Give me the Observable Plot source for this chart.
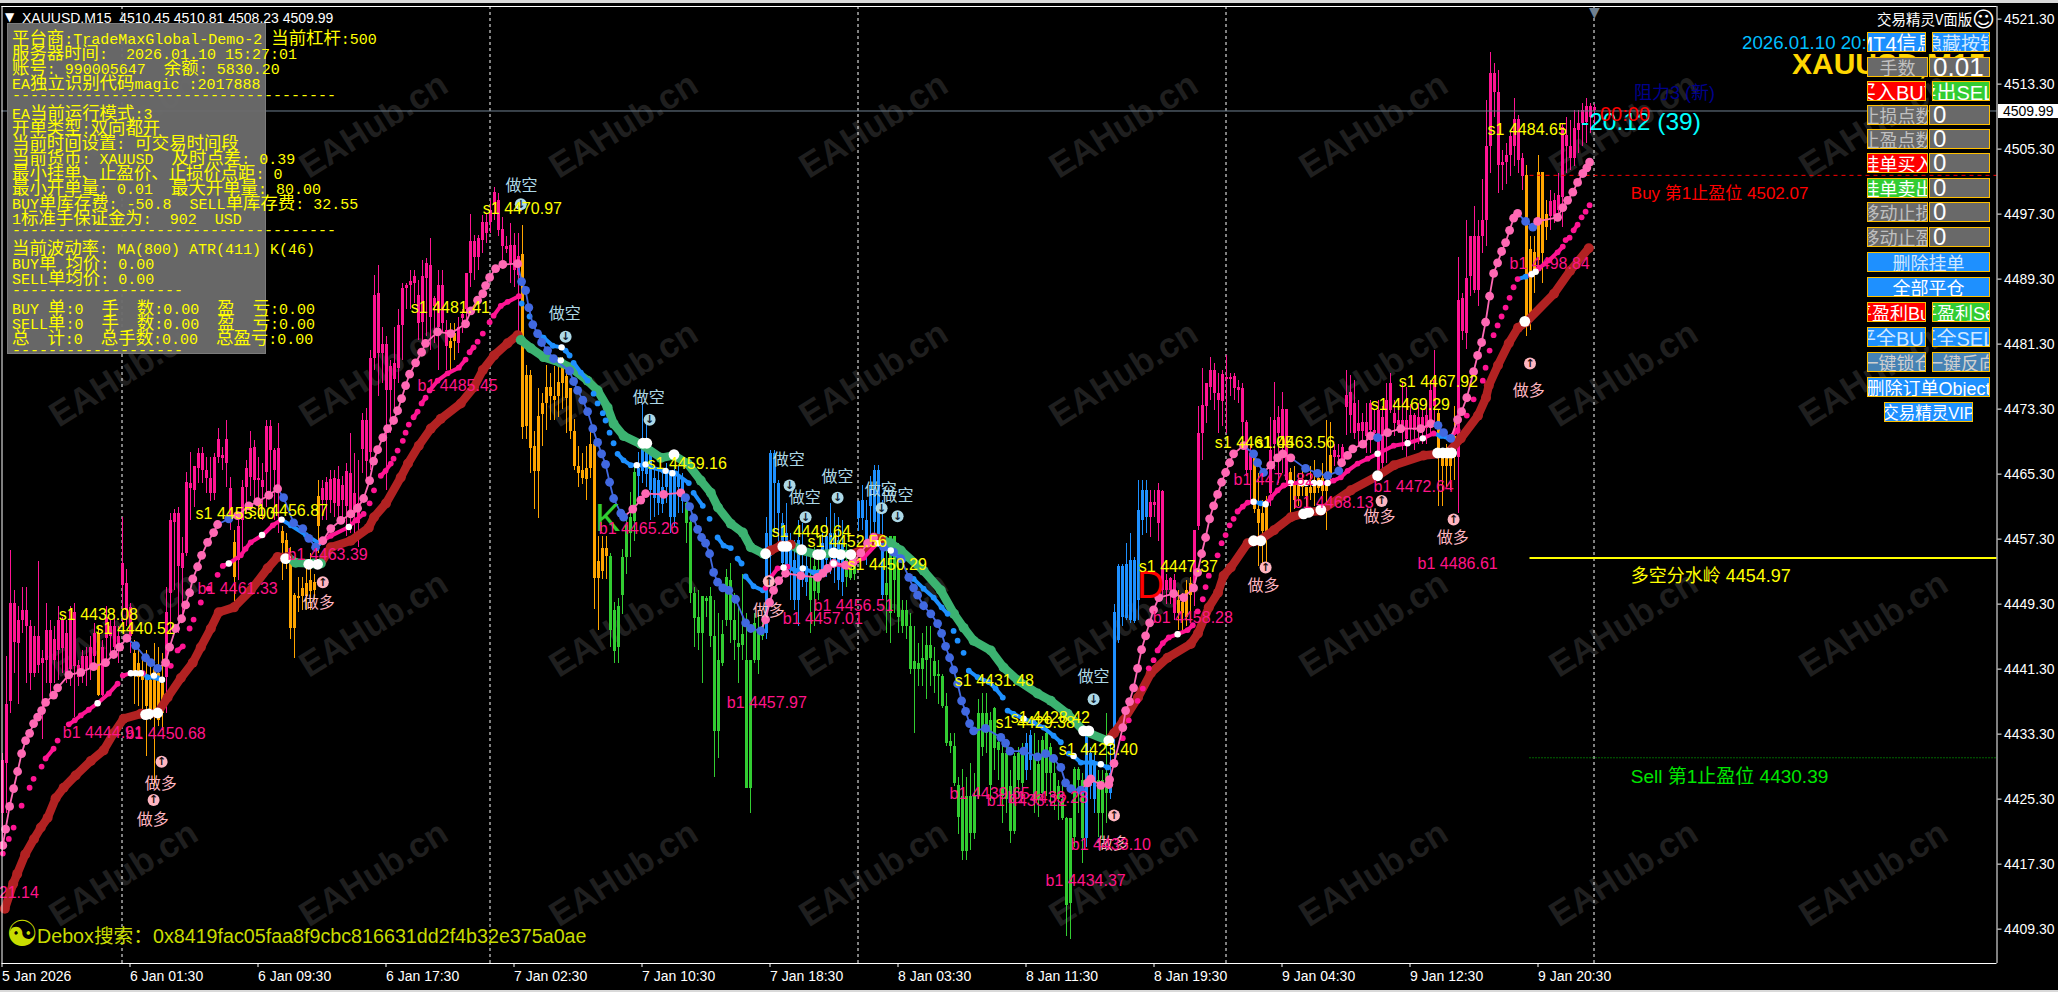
<!DOCTYPE html>
<html><head><meta charset="utf-8">
<script src="https://cdn.jsdelivr.net/npm/d3@7"></script>
<script src="https://cdn.jsdelivr.net/npm/@observablehq/plot@0.6"></script>
<style>
html,body{margin:0;padding:0;background:#000;overflow:hidden}
#wrap{position:relative;width:2058px;height:992px;background:#000;overflow:hidden;font-family:"Liberation Sans","Noto Sans CJK SC",sans-serif}
#wrap svg{display:block}
.ov{position:absolute;white-space:pre;line-height:1}
.pl{position:absolute;left:12px;white-space:pre;height:15px;line-height:15px;font-family:"Liberation Mono",monospace;font-size:15px;color:#ff0}
.pl span{font-family:"Noto Sans CJK SC";font-size:17.4px}
.btn{position:absolute;box-sizing:border-box;border:1px solid #ffc000;display:flex;align-items:center;overflow:hidden;white-space:nowrap;font-size:18px;justify-content:center}
.btn b{font-weight:400;flex:none}
</style></head><body><div id="wrap"></div>
<script>
// all prices below are points above this base
const priceBase = 4400;
// candle rows: [high, body top, body bottom, low]
const candlesA = [[30.9,30.1,23.5,18.6],[42.8,36.9,29.7,23.5],[55.9,49.4,37.3,35.8],[51,49.4,44.6,40.8],[49,47.3,44.4,37],[51.4,48.5,47.3,45.7],[51.4,48.5,46.5,39.5],[47.3,46.5,40.8,38.7],[46.5,45.3,40.8,40.3],[54.5,45.3,41.8,40.8],[43.6,42.6,42,32.6],[49.4,46.1,42.4,39.5],[47.3,46.1,39.5,38.3],[46.5,44.9,42.4,39.5],[49,47.3,43.6,39.9],[47.7,47.3,43.8,40.8],[47.3,45.7,40.3,39.5],[49,48.5,41.2,39.1],[49.4,48.3,41.6,35.4],[42.4,41.8,40.3,39.1],[43.6,42.8,41.2,39.5],[44,42.8,41.2,39.1],[45.3,44,41.2,39.9],[46.9,45.7,42.8,41.2],[46.5,45.7,38.1,37.9],[44.8,44,38.1,37.9],[49,47.7,45.1,42.4],[47.3,46.5,45.3,43.2],[47.7,46.5,44,43.2],[46.5,45.3,43.6,42],[60,54.3,51.6,46.5],[53.5,51.8,48.5,46.5],[49.4,48.9,45.3,43.2],[44.8,43.2,40.8,37],[44,42,40.3,36.7],[42.4,40.8,39.9,36.2],[43.6,40.3,36.7,30.5],[42,39.9,36.2,35],[44.4,41.2,35.8,26.8],[44,40.8,35,34.2],[43.2,39.5,35.8,33.8],[51.4,48.3,40.3,35.8],[60.4,59.6,50.6,45.7],[61,60.4,59.4,51],[61.2,60.4,53.9,45.7],[57.5,55.5,53.7,48],[65.5,64.3,55.5,55.1],[68,64.1,63.5,59.6],[66.2,66.2,63.3,61.2],[68.4,67.8,66,64.1],[68.6,67.8,65.8,64.1],[67.4,65.8,64.7,62.9],[67.4,64.7,62.9,61.9],[67.8,67.4,62.9,62],[70.9,69.6,67.4,66.6],[68.6,67.6,67.2,65.8],[71.9,69.6,66.6,63.7],[64.9,63.5,60,58.4],[58.4,56.9,52.6,49.6],[59.6,58.8,54.7,52.2],[64.5,63.7,59.6,55.5],[67,66,63.7,60.4],[70.5,68.4,64.9,62.5],[69.4,68.6,64.5,61.7],[67.4,64.7,64.5,60],[66.6,64.5,63.7,59.6],[71.9,71.1,65.5,61.2],[71.9,71.1,68.2,62.5],[68.4,68.2,65.8,59.6],[71.5,68.4,62.9,58],[58.8,58.2,56.7,52.2],[58,57.1,55.5,53.5],[56.3,55.1,46.3,44.9],[50.6,50.4,46.3,42.6],[52.6,50.2,50,48.3],[52.6,51.2,50.2,48.5],[53.9,51.8,50.2,48.5],[55.5,52.2,50.8,48.5],[53,52,51,49.8],[64.5,62.5,58.8,55.5],[64.5,63.5,62,59.6],[64.9,64.3,62,59.6]];
const candlesB = [[65.8,64.6,62.1,60.5],[65.8,64.8,61.7,60],[66.2,64.6,61.3,59.2],[65,63.9,62.1,59.2],[66.6,65.6,61.3,57.6],[70.3,65.4,60.5,58],[67.8,62.9,60.5,57.6],[67,61.7,59.2,56.3],[72.7,71.9,68.3,65.4],[73.4,71.9,66.8,64.6],[80.5,79.5,68,65.8],[89.8,87.3,79.5,78.1],[91,87.5,80.1,74.8],[83.4,81.2,80.1,76.4],[82.2,81.2,75.6,63.3],[79.3,78.5,75.6,70.3],[83.4,78.9,76.9,73.2],[85.5,83.6,78.3,76.4],[88.7,88.1,83.6,79.3],[88.7,88.5,88.1,85.5],[90.4,89,88.5,85.5],[90.4,89.6,88.7,86.3],[89.1,87.3,83.8,81.8],[91.6,89.6,84,81],[91.8,91.2,89.4,82.2],[94.3,91,84.6,80.5],[87.1,86.9,85.9,81.4],[90.4,88.5,83.4,78.1],[90.4,88.5,83.8,82.6],[84.2,83,81,78.1],[83.8,81.6,80.7,77.9],[83.8,82.6,81.6,79.3],[84.6,83.4,81.4,80.1],[85.5,85,84.4,82.6],[90,90,85.5,83.8],[97.3,93.9,90,88.3],[94.7,93.9,92,89.1],[94.7,94.3,91.9,90.4],[97.1,96.3,94.1,92.4],[97.3,96.3,94.9,93.7],[99,97.8,96.3,94.9],[100.6,100,98.4,96.5],[99.8,99,95.3,94.5],[96.9,95.4,93.3,91.6],[94.5,93.3,93,92.4],[96.1,93.4,91.2,88.7],[94.9,93.4,90.4,88.3],[94.9,92.1,89.8,82.6],[95.9,92.3,71,69.5],[78.7,77.4,71.1,69.5],[78.1,77.4,68.4,65.4],[70.5,68.7,65.6,61],[75.8,72.4,65.6,59.8],[75.2,74,72.6,68.7],[78.7,76,74,70.7],[77.7,76,74.8,71.9],[78.5,74.8,74.4,71.9],[79.7,76.6,74.8,72.3],[79.7,78.5,76.4,73.2],[78.1,77.3,74.6,70.3],[75.8,75.8,70.5,69.5],[72,70.5,66.2,65.8],[68.7,66.2,65.4,63.7],[67.8,65.8,64.8,64],[68.7,66,64.6,62.1],[70.7,68.9,66,64.8],[68.9,68.9,52.5,48.6],[57.6,54.5,52.5,46.1],[57.6,56.2,53.3,52.3],[57.6,56.2,55.1,52.3]];
const candlesC = [[55.5,55.1,46.1,44],[49.5,48.5,43.5,42],[50,49,44,42],[56,55,50.4,48],[60,59,55,53],[63,60,58,55],[66.5,65.5,59.5,57],[68,66,65,62],[74,68.4,65.6,64.1],[71.5,68.4,65.2,63.7],[69,68.2,63.3,59.6],[66.2,64.8,62.3,60],[65.8,64.5,61.7,60.2],[65.4,63.7,61.5,60.5],[66.6,65.8,63.7,61.7],[65.8,65.2,60,58],[66.2,65.6,60,58.8],[66.2,65.2,63.7,60.5],[65.4,64.5,61.9,60.5],[62.5,61.7,59.2,56.8],[60,59.4,50.6,49.4]];
const candlesD = [[51.4,50.6,47.5,44],[51,47.7,45.7,43.6],[50.2,50.2,45.7,39.5],[50.2,50,49.6,47.7],[51.4,50.2,45.3,44],[49.8,45.3,33.6,27.9],[48.1,42.4,33.6,30.3],[47.3,45.5,42,41.6],[53.5,52.6,47.3,46.5],[54.3,52.2,47.3,44.5],[50.6,47.3,44.8,42.4],[49,44.4,44,39.5],[53,45.5,44.2,42.4],[48.1,42.4,26.6,26.6],[42.4,42.4,26.6,23.5],[48.1,46.9,42.4,42],[48.1,46.1,42.4,40.6],[47.3,46.5,45.3,44.8],[60,58,45.7,44.9],[68.2,67.8,55.1,51.8],[68.2,67.8,64.1,58],[64.5,64.1,60.4,56.3],[60.4,59.2,54.3,53.5],[61.7,58,53,52.6],[58,56.3,53.5,49.8],[57.1,54.7,49.8,48.5],[59.6,57.1,49.8,46.5],[59.2,53.9,52.2,51.4],[55.5,53.9,52,50.2],[55.9,52.6,49.8,45.7],[56.3,53.9,50.8,46.5],[55.1,53.5,50.6,49.8],[58,56.7,53,52.6],[60,57.6,54.7,52.6],[61.7,58,55.1,53],[60.4,58,53.9,51.8],[60,57.1,52.2,51],[59.6,56.7,52,50.2],[56.7,54.7,52.6,51.4],[55.1,54.3,52.4,52.2],[55.9,55.1,53,52.2],[62.1,61.9,59.8,58.2],[63.9,62.1,59.8,58.4],[62.1,59.6,56.7,54],[65,63.9,61.3,56.3],[66.4,65.8,59.4,57.1],[66.4,65.8,57.1,56.3],[62.1,57.1,50.4,49.8],[57.6,51.8,50.4,45.7],[57.6,57.6,48.1,44.4],[57.6,57.6,52.2,48.1],[56.7,53.5,47.7,45.7],[49.8,48.5,46.5,45.7],[49.8,48.5,46.5,44.9],[48.1,46.5,41.2,40.6],[46.5,42.2,41.2,33.4],[44.4,42,41.2,39.1],[45.7,42.6,41.2,39.1],[46.5,44.2,42.4,37.5],[46.5,44.2,42.6,39.1],[44,42.2,40.4,38.3],[42.4,40.6,40.4,37],[40.6,40.4,36.7,36.5],[38.3,36.7,32.2,31.8],[33.4,32.4,31.8,30.9],[33.4,31.8,27.2,26.8],[28,27,23,21],[29,25.6,18.8,17.8],[28,25.6,18.8,17.8],[29.7,25.6,21.1,19],[28.5,25.6,21.1,20.3],[37.5,35.8,25.6,25.2],[38.3,35.8,31.7,30.5],[38.3,35.8,33.4,30.9]];
const candlesE = [[36,35,27,25],[36.6,36.4,31.5,28.8],[33,32.3,31.3,27.6],[32.1,30.9,25.6,22.3],[31.7,30.9,25.2,23.5],[28.8,26.8,21.3,19.8],[30.9,30.5,21.3,21],[31.7,30.9,27.6,25.2],[32.1,31.3,27.2,25.2],[33.4,32.1,28.8,27.6],[33.8,33.1,30.1,28.8],[33.4,30.5,25.2,23.5],[32.5,29.5,25.2,23.1],[33,32.5,26,25.2],[33.8,33.4,28.4,25.6],[32.1,31.7,28.4,24.7],[30,28.4,26,23.9],[27.6,26.8,25.2,22.7],[27.6,25.2,22.9,22.7],[23.1,22.9,12.2,8.4],[22.9,22.9,12.4,8],[29.2,29,20.6,19.4],[29.2,29,27.6,23.5],[28.4,27.6,20.4,17.4],[33.4,33.1,20.4,19.4],[31.7,30.9,26.8,25.2],[30.9,29.7,25.2,23.5],[28.8,27.6,23.5,20.6],[28.8,27.6,23.5,20.2],[35.8,28.4,26,22.3],[33.8,28.4,26,25.2],[49.3,48.3,32.9,30],[54.2,53.9,44.8,44.4],[54.2,53.9,47.7,46.5],[56.7,54.2,47.5,47.3],[58,54.7,47.3,46.9],[55,54.7,47.1,46.9],[64.5,60.8,49.7,47.3],[64.5,63.3,59.6,57.7],[64.5,63.3,60,58],[63.3,61.8,60,57.5],[63.3,61.8,61.4,60],[64.1,63.3,59.2,57],[63.3,63.1,51,50.2],[53,52.2,51,49.3],[52.6,52.4,51,49.3],[53,52.2,48.1,47.3],[51,49.7,48.1,46],[50.6,49.5,48.1,46],[52.2,51,47.7,46.5],[52.6,51.8,50.4,46.9],[58.3,58.3,51.8,49]];
const candlesF = [[73.6,70.3,58.8,58.4],[78.3,73.8,70.3,67],[76.4,76.4,73.6,71.5],[79.7,78.1,76,74.4],[78.9,78.1,75.2,73.1],[77.7,75.2,74.4,70.3],[78.1,77.5,74.2,71.1],[79.9,77.2,77,70.3],[77.7,77.2,76.9,74.8],[77.7,77.3,75.8,74.4],[76.8,75.9,75.6,74],[76.4,75.8,71.7,69.5],[71.9,71.6,65.8,65],[69,67.8,65.8,62.1],[67.4,67.2,61,60.4],[65.4,60.9,59.2,53.9],[62.1,60.4,58.2,54.3],[62.5,62.1,58,53.9],[72.3,68.2,62.9,61.3],[76.6,71.9,69,65.8],[73.6,72.3,70.3,64.1],[75.4,73.3,69.5,65.4],[73.3,73.3,64.5,63.7],[66,65.5,64.5,60],[66.2,64.1,62.1,61],[65.4,64.1,62.5,61.3],[65.8,64.1,63.7,62.5],[63.7,63.7,62.5,60.4],[66.2,63.7,62.9,62.1],[67,64.5,62.9,61.3],[65.8,64.7,63.5,62.9],[66.6,64.7,63.1,62.5],[71.9,64.3,63.1,58.4],[71.7,67.6,64.9,64.3],[69,68.2,67.4,66.2],[69,67.6,67.4,66.6],[69,68.6,66.6,66.2],[78,75,73.5,70],[77.4,75.4,72.5,70.3],[76.8,74,70.3,69.5],[74.4,71.5,70.5,68.6],[72.7,71.7,70.5,68.6],[74,71.7,69.9,67.8],[74.4,74,70.7,67.8],[73.1,70.7,70.3,69.5],[74.4,73.1,65.8,65],[73.6,72.3,66.6,65.4],[76.4,74.4,70.3,66.6],[77.7,76.4,73.1,72.7],[74.4,72.7,71.5,69.9],[74.4,71.9,71.3,70.3],[76.4,71.9,71.3,68.2],[76,71.9,69.5,67.4],[73.9,72.5,70.9,69],[72.7,72.5,70.7,68.2],[74,72.3,70.5,69],[73.1,72.3,70.9,69],[74.4,72.5,70.9,69],[76.8,75.6,71.9,70.3],[80.5,76.8,73.6,71.1],[73.1,72.7,67.6,61.3],[68.2,67.4,66.2,61.3],[69,67.4,66.2,63.7],[68.2,67.4,66.2,63.3],[73.6,69.9,67.4,64.5]];
const candlesG = [[92,86.7,67.4,60.5],[87.5,86.9,82.8,81.8],[96.5,89.4,82.6,80.6],[94.5,94.5,89.6,87.1],[98.2,94.5,87.9,87.5],[96.5,94.5,87.9,85.9],[101.5,96.5,94.5,92.4],[111.3,105.6,96.5,93.3],[117.2,114.6,105.6,102.3],[115.8,114.6,112.3,109.2],[115,112.3,103.3,99.8],[105.1,103.7,103.3,100.2],[106,104.5,103.7,101],[107.6,106.8,104.5,101.9],[111.5,108.9,105.6,103.1],[109.4,108.9,103.9,102.3],[104.7,104.1,101.9,100.2],[103.3,102.1,84.2,82.2],[94.5,93,84.2,83],[94.5,92.6,90,87.5],[104.5,102.4,91.6,90],[102.3,102.4,92.4,88.8],[99,97.2,95.7,94.1],[100.2,98.8,97,95.3],[99.8,99,97,96.1],[102.3,99.6,97.8,97],[108.4,108,99.4,95.7],[109.2,107,105.6,102.3],[108.8,105.6,104.1,102.7],[110,107.8,104.1,103.1],[110,108.4,107.6,104.7],[110.9,110,108.4,105.6],[111.5,110.6,108.6,106],[110.9,110.6,109.2,107.2],[110.8,110.4,110,108.2]];
// [first bar, regime] runs for the candle colours
const regimeRuns = [[0,"rise"],[24,"pull"],[25,"rise"],[33,"pull"],[41,"rise"],[58,"pull"],[59,"rise"],[70,"pull"],[80,"rise"],[112,"pull"],[114,"rise"],[130,"pull"],[152,"fall"],[159,"bounce"],[171,"fall"],[191,"bounce"],[202,"fall"],[205,"bounce"],[211,"fall"],[214,"bounce"],[221,"fall"],[256,"bounce"],[258,"fall"],[271,"bounce"],[274,"fall"],[277,"bounce"],[287,"rise"],[294,"pull"],[298,"rise"],[313,"pull"],[317,"rise"],[322,"pull"],[333,"rise"],[359,"pull"],[364,"rise"],[381,"pull"],[387,"rise"]];
const regimeColors = {rise:"#FF1493",pull:"#FFA500",fall:"#32CD32",bounce:"#1E90FF"};

// indicator lines: [bar, price above base]
const lowerBand = [[0.7,11.8],[2.8,14.9],[3.8,16.1],[5.8,18.5],[8,20.4],[9.7,21.8],[11.4,23],[13.4,25.4],[15.4,26.7],[18.4,28.2],[22.2,30],[25.4,31.3],[27.9,33.4],[30.4,35.2],[34.7,35.8],[38.9,35.9],[41.4,37.8],[44.7,40.2],[47.7,42.1],[49.7,44],[52.2,46.3],[54.2,48.3],[58,48.9],[62.2,51],[66.4,53.7],[68.9,55.1],[71.4,55.1],[73.4,54.4],[78,54.3],[79.7,54.3],[82.2,56.3],[87.2,57.1],[91.7,58.7],[93,60],[96,61.7],[99.7,64.9],[101.5,66.6],[104.2,68.8],[107.2,70.9],[109.7,72.1],[114.7,74],[118,76],[120.2,78.1],[123,79.9],[126.4,81.4],[128.9,82.4],[129.7,81.8],[132.2,80.8],[135.4,79.7],[139.7,79],[142.2,78.4],[146.4,76.8],[148.9,75.6],[151.4,73.5],[152.9,71.5],[155.4,70],[159.7,69],[164.7,67.3],[168,67.6],[171.4,66.6],[174.7,64.5],[177.2,63],[179,61.2],[182.2,59.2],[185.2,58.1],[187.2,56.3],[190.4,55.5],[192.2,55.9],[194.7,56.5],[197.2,56.6],[199.7,55.9],[203.9,55.4],[207.9,55.6],[212.2,55.4],[214.7,55.9],[216.4,56.3],[218,57.5],[219.7,57.3],[222.2,56.8],[224.7,55.9],[230.4,53.4],[234.7,51],[238,48.1],[240.4,46.4],[242.9,44.8],[247.2,43.6],[250.4,41.5],[254,39.9],[258.9,38.3],[262.2,37.4],[266.4,35.8],[270.4,33.7],[276.4,32.5],[278,33.4],[280.4,35],[284,37.8],[287.2,40.8],[291.4,42.7],[297.2,44.4],[299,45.7],[301.7,48.9],[304,50.7],[305.4,52.8],[307.2,53.8],[311.4,56.8],[314.2,57.1],[318,58.4],[322.2,60],[326.4,60.6],[329.7,60.8],[337.2,63.3],[344,65.1],[348,66.4],[355.4,67.6],[361.4,67.9],[364.7,69.7],[369,72.5],[371,74.7],[371.7,76.2],[374,78.7],[376.7,81.4],[379,83.3],[381,84],[388,87.5],[392,90.3],[396.7,93.1]];
const lowerSwitch = [72.8,81,129.5,191.5,199,214,221,277.5];
const middleDots = [[0.2,18.6],[1.7,20.4],[2.9,21.8],[4.9,24.5],[6.9,26.7],[7.9,27.8],[9.9,29.3],[10.9,30.3],[12.9,31.5],[13.9,32.5],[16.7,34.5],[18.2,35],[19.7,35.6],[21.7,36.3],[23.9,37.1],[26.7,38.3],[28.9,39.5],[30.2,40.5],[32.2,40.8],[35.2,40.8],[36.4,40.3],[38.9,40.2],[40,40],[42.2,41.7],[43.9,43.6],[45.2,44.1],[46.9,46.3],[47.9,47.4],[49.7,49.5],[51.7,51.2],[53.9,52.9],[55.2,54],[56.7,54.3],[59.7,55.3],[60.9,56.1],[62.2,56.9],[65.2,57.8],[67.7,59],[69.9,59.7],[72.2,59],[76,57.8],[79.2,56.8],[82.2,57.7],[86.7,58.8],[88.4,59.6],[90.4,60.4],[91.9,61.7],[93,63.3],[94.7,65.1],[95.9,65.7],[97.2,66.6],[97.9,67.2],[98.9,68.2],[100.2,69.4],[100.9,70.4],[101.7,71.4],[102.9,72.3],[103.9,73],[104.9,74],[105.9,74.7],[106.9,75.6],[108.9,76.8],[111.4,77.7],[114.2,78.4],[115.9,79.4],[116.9,80.3],[117.9,80.9],[118.9,81.6],[120.2,82.6],[121.9,84],[122.9,84.8],[124.7,86],[126.4,86.5],[129.2,87.2],[129.9,86.3],[131.9,84.7],[133.9,82.6],[135.4,82.1],[137.7,81.1],[139.9,80.9],[140.9,80.5],[141.9,79.9],[142.9,79],[144.7,77.8],[146.4,76.8],[147.9,75.2],[148.9,74],[150.2,72.8],[150.9,71.9],[151.9,70.4],[152.9,69.1],[153.9,67.8],[155.4,67],[157.2,66.4],[160.2,66.4],[165.4,65.7],[168.4,65.4],[171.7,64.2],[172.9,63],[175.2,61.4],[176.9,59.8],[178.9,57.5],[180.4,56.5],[182.2,56.2],[183.9,54.9],[184.9,54.3],[185.9,52.7],[187.9,51.5],[190.2,51],[190.9,51.3],[192.2,52.6],[193.9,53.7],[196.4,53.9],[198.4,53.4],[200.2,53.7],[202.9,53.2],[205.9,53.4],[207.9,54.3],[211.4,53.9],[215.4,55],[218.9,56.8],[222.2,55.9],[225.2,54.7],[227.9,52.4],[230.4,51.2],[232.9,50.1],[234.9,48.9],[236.4,48.1],[237.9,46],[238.9,44.8],[240.4,43.3],[241.7,41.1],[243.9,40.3],[246.7,39.7],[248.4,38.9],[250.2,37.8],[251.4,36.2],[252.9,35.8],[255.4,35.2],[257.9,34.7],[260.4,34.1],[262.9,33.1],[264.7,32.3],[266.7,30.9],[267.9,30.6],[269.7,29.8],[272.7,29.8],[274.7,29.6],[276.4,29.2],[280.2,32.8],[281.7,35],[283.9,37.4],[285.2,38.9],[286.7,41.4],[287.9,42.4],[288.9,43.6],[290.2,44.5],[291.7,45.2],[293.9,45.6],[296.4,46.1],[297.7,46.7],[298.9,48.4],[300.2,49.9],[300.9,51.4],[301.7,52.8],[303.9,55.3],[304.9,56.8],[305.9,57.8],[306.9,59],[307.9,59.8],[308.9,60.7],[310.2,61.3],[311.4,61.8],[312.9,61.9],[314.7,61.7],[315.9,61.6],[317.2,62.4],[318.9,63.3],[320.4,63.9],[322.2,64.2],[324.7,64.2],[328,64.2],[331.4,64.2],[332.9,64.5],[334.7,64.9],[336.4,65.7],[338.9,66.6],[341.4,67.2],[343.9,67.8],[347.9,68.8],[351.4,69.1],[355.2,69.7],[357.9,70.3],[359.7,70],[361.7,69.7],[363.9,70.7],[366.2,72.5],[367.9,74.5],[370.2,76.8],[370.9,78.4],[371.9,80.5],[372.9,82.4],[373.9,83.6],[374.9,84.7],[375.9,85.8],[376.9,87],[377.9,88.3],[378.9,89.3],[380.9,89.6],[382.4,89.9],[384.2,90.6],[386.7,91.6],[388.9,92.6],[390.2,93.3],[390.9,94.1],[391.9,94.4],[392.9,95.3],[393.9,96],[394.9,96.9],[395.9,97.6],[396.9,98.4]];
const middleSwitch = [36,41.5,70.5,81,129.5,190.5,197.5,207,220,277.5,314,316.5,359,363,380,382];
const upperDots = [[0.2,19.6],[0.9,21.6],[1.9,24.4],[2.9,26.6],[3.9,28.7],[4.9,30.9],[5.9,32.5],[6.9,33.4],[7.9,34.6],[8.9,35.4],[9.9,36.2],[10.9,37.2],[12.9,38.1],[13.9,39],[16.7,40.6],[19.7,40.9],[22.9,41.6],[25.9,42.1],[27.9,43.1],[29.4,44],[31.2,45.1],[33.4,44.2],[35.9,42.7],[37.2,42.1],[38.9,41.4],[40.9,42.1],[41.9,44],[43.4,46.3],[44.9,47.5],[45.9,49.2],[46.9,50.7],[47.7,52.4],[48.9,53.9],[49.9,55.3],[51.4,56.9],[52.9,58.1],[53.9,59.1],[56.7,59.8],[58.9,60.2],[61.7,61.4],[63.9,61.9],[66.7,62.7],[68.9,63.5],[70.4,62.4],[72.9,59.3],[75.2,58.6],[76.7,57.4],[78.4,56.3],[80.2,57.1],[82.2,58.6],[84.7,59.6],[87.2,60.4],[88.9,61.1],[90.4,62.3],[91.9,64.5],[92.9,66.9],[93.9,68.3],[95.2,69.8],[96.4,70.9],[97.9,71.9],[98.9,73.1],[99.9,74.6],[100.9,76.2],[101.9,77.6],[103.4,79],[104.9,80.3],[105.9,81.4],[108.9,82.8],[112.2,82.6],[115.9,83.8],[117.2,85.4],[118.9,86.7],[120.2,87.5],[120.9,88.5],[121.9,89.5],[123.4,90.6],[125.2,91.1],[128.9,91.2],[129.9,89],[130.9,87.9],[131.7,85.8],[132.7,83.7],[133.9,82.6],[134.9,81.5],[136.4,80.5],[137.9,79.5],[141.9,78],[142.9,76.7],[143.9,75.6],[145.2,74.4],[146.4,73],[147.7,70.9],[148.9,69.2],[149.9,67.8],[150.9,66.5],[151.9,64.3],[152.9,62.3],[154.7,60.5],[155.4,60],[157.7,61],[159.7,62.1],[160.9,62.9],[165.4,62.8],[169.7,63],[170.9,62.4],[171.9,61.3],[172.9,59.9],[173.9,58.5],[174.9,57.5],[175.9,56.8],[176.9,55.5],[177.9,53.2],[178.9,52],[180.2,51.3],[181.7,51],[183.4,49.9],[185.9,47],[187.2,46.3],[189.7,46],[190.9,47.4],[191.9,49.5],[192.9,51],[194.2,52.2],[195.9,53.1],[199.7,52.8],[203.9,52.6],[205.2,53.1],[206.4,53.7],[207.9,54.3],[210.9,54.1],[212.7,54.4],[214.7,55.6],[216.4,56.8],[217.9,57.5],[220.4,56.3],[222.9,55.7],[224.7,54.9],[226.7,52.6],[227.9,51.3],[228.9,50.4],[230.4,49.1],[232.2,48.1],[233.9,46.9],[234.9,45.7],[235.9,44.1],[236.9,42.7],[237.9,41.2],[238.9,39.5],[239.9,37.4],[240.9,36.1],[241.9,34.6],[242.9,33.7],[245.9,34],[249.7,32.9],[250.9,32.2],[252,31.2],[255.4,31.2],[258.9,30.5],[260.9,30.9],[262.9,30.3],[264.7,29.2],[265.9,27.3],[267.2,26.6],[269.7,26.4],[271.4,27.3],[272.2,27.8],[274.7,27],[276.7,27.1],[276.9,27.7],[278,29.7],[280.2,34.1],[280.9,36.2],[281.9,37.3],[282.9,39],[283.9,41.4],[284.9,43.7],[285.9,45.4],[286.9,47],[287.9,48.6],[289.2,50.1],[292.9,50.6],[295.4,50.1],[297.9,51.3],[298.9,53.2],[299.9,55.5],[300.9,57.5],[301.9,59.8],[302.9,61.4],[303.9,62.8],[304.9,64.3],[305.9,65.5],[306.9,66.7],[307.9,67.8],[310.4,68.8],[312.9,67.8],[313.9,66.7],[315.4,65.5],[317.2,66.4],[318.9,67.3],[320.2,67.8],[322.2,67.3],[325.9,66],[328.9,65.4],[331.4,65.1],[334.2,65.7],[334.9,66.7],[336.4,67.6],[337.7,68.4],[340.2,69],[342.2,70],[343.9,69.8],[346.4,70.4],[349.7,70.9],[354.7,70.9],[357.2,71.5],[359,71.3],[360.4,70.4],[362.2,69.7],[363.9,72],[364.9,73],[366.2,74.7],[367.9,77.9],[368.9,79.9],[369.9,81.5],[370.9,84],[371.9,87.2],[372.9,90],[373.9,91.3],[374.9,92.7],[375.9,93.8],[376.9,95.3],[377.9,96.8],[378.9,97.4],[380.9,96.4],[382.7,95.7],[383.9,96.4],[388.9,96.9],[390.2,98.1],[391.4,99],[392.7,100],[393.9,101.2],[395.2,102.3],[396.2,103],[396.9,103.7]];
const upperSwitch = [33,40.5,56,58.5,70,80,129.5,157,170.5,190.5,220,271,312.5,317,325.5,334.5,343.5,346,358.5,363.5,380.5,383.5];
// white signal beads
const bigBeads = [[35.9,35.7],[36.7,35.8],[38.9,35.9],[70.9,54.9],[76.7,54.2],[78.9,54.2],[160.2,69.1],[161.2,69.1],[168,67.7],[190.9,55.5],[195.2,56.4],[196.2,56.4],[199.9,56],[203.9,55.4],[204.7,55.4],[207.9,55.6],[209.7,55.4],[212.2,55.4],[270.4,33.7],[271.7,33.7],[276.7,32.5],[312.9,57.1],[314.7,57.1],[325.4,60.4],[326.7,60.6],[329.7,60.9],[343.9,65.1],[358.9,67.9],[360.2,67.9],[361.4,67.9],[362.4,67.9],[380.7,84.1]];
const smallBeads = [[23.9,37.1],[32.2,40.8],[33.4,40.8],[34.7,40.8],[38,40.5],[40,40],[56.7,54.3],[65,57.8],[69.9,59.7],[86.7,58.8],[139.9,80.9],[139.7,79.3],[158.7,66.4],[160.9,66.5],[165.9,65.7],[167.6,65.4],[195.4,53.8],[200.2,53.7],[207.9,54.3],[222.2,55.9],[218.9,56.8],[255.4,35.2],[267.9,30.6],[274.7,29.6],[293.9,45.6],[312.9,61.9],[315.9,61.6],[322.2,64.2],[324.7,64.2],[326,64.2],[328,64.2],[329.5,64.2],[331.4,64.2],[343.9,67.8],[351.4,69.1],[355.2,69.7],[382.4,89.9],[383.4,90.2]];
// order labels: [text, bar, price above base]
const sellLabels = [["s1 4438.08",14.2,48],["s1 4440.52",23.4,46.2],["s1 4455.00",48.4,60.4],["s1 4456.87",61.7,60.8],["s1 4481.41",102.2,85.8],["s1 4470.97",120.2,98],["s1 4459.16",161.4,66.5],["s1 4449.64",192.4,58.2],["s1 4452.56",201.4,57],["s1 4450.29",211.4,54.1],["s1 4431.48",238.2,39.8],["s1 4428.42",252.2,35.3],["s1 4429.38",248.4,34.7],["s1 4423.40",264.2,31.3],["s1 4447.37",284.2,53.9],["s1 4461.05",303.2,69.2],["s1 4463.56",313.4,69.1],["s1 4469.29",342.2,73.8],["s1 4467.92",349.2,76.6],["s1 4484.65",371.4,107.7]];
const buyLabels = [["b1 4444.91",15.2,33.4],["b1 4450.68",30.9,33.3],["b1 4461.33",48.9,51.2],["b1 4463.39",71.4,55.3],["b1 4485.45",103.9,76.2],["b1 4465.26",149.2,58.6],["b1 4456.51",202.9,49.1],["b1 4457.01",195.2,47.5],["b1 4457.97",181.2,37.1],["b1 4439.65",236.9,25.9],["b1 4433.22",246.2,25.1],["b1 4433.28",251.4,25.5],["b1 4433.10",267.2,19.7],["b1 4434.37",260.9,15.3],["b1 4458.28",287.7,47.6],["b1 4471.82",307.9,64.6],["b1 4468.13",322.9,61.8],["b1 4472.64",342.9,63.7],["b1 4486.61",353.9,54.2],["b1 4498.84",376.9,91.2]];
const clippedBuyLabel = [["b1 4421.14",9.2,13.8]];
// trade signals: arrow bar, arrow price, text bar, text price
const longSignals = [[39.9,29.9,39.7,27.2],[37.9,25.2,37.7,22.8],[80.2,52,79.2,49.4],[191.7,52.1,191.7,48.5],[278,23.3,277.7,19.8],[315.9,53.8,315.4,51.6],[344.9,62,344.4,60],[362.9,59.7,362.7,57.4],[382,78.9,381.7,75.6]];
const shortSignals = [[129.7,98.5,129.9,100.8],[140.9,82.2,140.7,85],[161.9,72,161.7,74.7],[196.9,63.9,196.7,67.1],[200.9,60,200.7,62.4],[208.9,62.4,208.9,64.9],[219.9,61.1,219.7,63.3],[223.9,60.1,223.9,62.6],[272.9,37.6,272.9,40.4]];
const letterMarks = [["K",151.4,59.8,"#32CD32"],["D",287.2,51.6,"#FF0000"]];
// horizontal levels: [price above base, colour, caption, caption price above base]
const buyLevel = [102.07,"#FF0000","Buy 第1止盈位 4502.07",99.8];
const pivotLevel = [54.97,"#FFFF00","多空分水岭 4454.97",52.7];
const sellLevel = [30.39,"#00C800","Sell 第1止盈位 4430.39",28];
const levelStartBar = 382, levelTextBar = 407.2;
const lastPrice = 109.99;
// axes
const yTicks = [4521.3,4513.3,4505.3,4497.3,4489.3,4481.3,4473.3,4465.3,4457.3,4449.3,4441.3,4433.3,4425.3,4417.3,4409.3];
const xTickBars = [0,32,64,96,128,160,192,224,256,288,320,352,384];
const xTickLabels = ["5 Jan 2026","6 Jan 01:30","6 Jan 09:30","6 Jan 17:30","7 Jan 02:30","7 Jan 10:30","7 Jan 18:30","8 Jan 03:30","8 Jan 11:30","8 Jan 19:30","9 Jan 04:30","9 Jan 12:30","9 Jan 20:30"];
const sessionBars = [30,122,214,306,398];
const watermarkBars = [30.4,92.9,155.4,217.9,280.4,342.9,405.4,467.9];
const watermarkLevels = [108.2,77.6,46.8,16.1];

const candleRows = [...candlesA,...candlesB,...candlesC,...candlesD,...candlesE,...candlesF,...candlesG];
const regimeAt = i => { let k = regimeRuns[0][1]; for (const [s,r] of regimeRuns) { if (i >= s) k = r; else break; } return k; };
const candles = candleRows.map((r,i) => ({bar:i,high:priceBase+r[0],top:priceBase+r[1],bottom:priceBase+r[2],low:priceBase+r[3],color:regimeColors[regimeAt(i)]}));

function segments(points, switches, upColor, downColor) {
  const rows = []; let s = 0, prev = null;
  for (const [bar,v] of points) {
    let moved = false;
    while (s < switches.length && bar >= switches[s]) { s++; moved = true; }
    const color = s % 2 ? downColor : upColor;
    if (moved && prev) rows.push({bar:prev[0],price:priceBase+prev[1],color,group:s,joint:true});
    rows.push({bar,price:priceBase+v,color,group:s,joint:false});
    prev = [bar,v];
  }
  return rows;
}
const lowerRows = segments(lowerBand, lowerSwitch, "#B22222", "#3CB371");
const middleRows = segments(middleDots, middleSwitch, "#FF1493", "#1E90FF");
const upperRows = segments(upperDots, upperSwitch, "#FF69B4", "#4169E1");
const middlePairs = [];
for (let i = 1; i < middleRows.length; i++) {
  const a = middleRows[i-1], b = middleRows[i];
  if (a.group === b.group && Math.abs(b.price-a.price) <= 0.7*(b.bar-a.bar)) middlePairs.push({x1:a.bar,y1:a.price,x2:b.bar,y2:b.price,color:b.color});
}
const priced = p => ({bar:p[0],price:priceBase+p[1]});
const labelRow = r => ({text:r[0],bar:r[1],price:priceBase+r[2]});
const font = "Liberation Sans, Noto Sans CJK SC, sans-serif";
const cjk = "Noto Sans CJK SC, sans-serif";
const longR = longSignals.map(r => ({bar:r[0],price:priceBase+r[1],tb:r[2],tp:priceBase+r[3]}));
const shortR = shortSignals.map(r => ({bar:r[0],price:priceBase+r[1],tb:r[2],tp:priceBase+r[3]}));
const watermarks = watermarkLevels.flatMap(l => watermarkBars.map(b => ({bar:b,price:priceBase+l})));
const levelRule = (lv, options) => Plot.ruleY([priceBase+lv[0]],{x1:levelStartBar,x2:498.75,stroke:lv[1],...options});
const levelText = (lv, fill, size) => Plot.text([lv],{x:levelTextBar,y:d=>priceBase+d[3],text:d=>d[2],fill,textAnchor:"start",fontSize:size,fontFamily:font});

const chart = Plot.plot({
  width:2058, height:992,
  marginLeft:1.5, marginRight:61.5, marginTop:6, marginBottom:29,
  x:{domain:[0,498.75]},
  y:{domain:[4405.07,4522.85]},
  color:{type:"identity"},
  style:{background:"#000",color:"#fff",fontFamily:font,overflow:"hidden"},
  marks:[
    Plot.text(watermarks,{x:"bar",y:"price",text:()=>"EAHub.cn",rotate:-32,fontSize:35,fontWeight:"bold",fill:"#1f1f1f"}),
    Plot.ruleX(sessionBars,{stroke:"#fff",strokeDasharray:"3 3",strokeWidth:1}),
    Plot.ruleX(candles,{x:"bar",y1:"low",y2:"high",stroke:"color",strokeWidth:1,shapeRendering:"crispEdges"}),
    Plot.ruleX(candles,{x:"bar",y1:"bottom",y2:"top",stroke:"color",strokeWidth:3,shapeRendering:"crispEdges"}),
    Plot.ruleY([priceBase+lastPrice],{stroke:"#708090",strokeWidth:1}),
    levelRule(buyLevel,{strokeDasharray:"4 4",strokeWidth:1}),
    levelRule(pivotLevel,{strokeWidth:2}),
    levelRule(sellLevel,{strokeDasharray:"1 2",strokeWidth:1}),
    levelText(buyLevel,"#FF0000",17),
    levelText(pivotLevel,"#FFFF00",18),
    levelText(sellLevel,"#00E600",19),
    Plot.line(lowerRows,{x:"bar",y:"price",z:"group",stroke:"color",strokeWidth:8.5,strokeLinecap:"round"}),
    Plot.dot(lowerRows.filter(d=>!d.joint),{x:"bar",y:"price",r:5,fill:"color"}),
    Plot.link(middlePairs,{x1:"x1",y1:"y1",x2:"x2",y2:"y2",stroke:"color",strokeWidth:4}),
    Plot.dot(middleRows.filter(d=>!d.joint),{x:"bar",y:"price",r:2.9,fill:"color"}),
    Plot.line(upperRows,{x:"bar",y:"price",z:"group",stroke:"color",strokeWidth:1.8}),
    Plot.dot(upperRows.filter(d=>!d.joint),{x:"bar",y:"price",r:4.4,fill:"color"}),
    Plot.dot(bigBeads.map(priced),{x:"bar",y:"price",r:5.4,fill:"#fff"}),
    Plot.dot(smallBeads.map(priced),{x:"bar",y:"price",r:3.2,fill:"#fff"}),
    Plot.text(letterMarks,{x:d=>d[1],y:d=>priceBase+d[2],text:d=>d[0],fill:d=>d[3],fontSize:38,fontFamily:font}),
    Plot.dot(shortR,{x:"bar",y:"price",r:6,fill:"#add8e6"}),
    Plot.text(shortR,{x:"bar",y:"price",text:()=>"↓",fill:"#102030",fontSize:11,fontWeight:"bold",fontFamily:"DejaVu Sans"}),
    Plot.dot(longR,{x:"bar",y:"price",r:6,fill:"#ffb6c1"}),
    Plot.text(longR,{x:"bar",y:"price",text:()=>"↑",fill:"#201010",fontSize:11,fontWeight:"bold",fontFamily:"DejaVu Sans"}),
    Plot.text(shortR,{x:"tb",y:"tp",text:()=>"做空",fill:"#add8e6",fontSize:16,fontFamily:cjk}),
    Plot.text(longR,{x:"tb",y:"tp",text:()=>"做多",fill:"#ffb6c1",fontSize:16,fontFamily:cjk}),
    Plot.text(buyLabels.map(labelRow),{x:"bar",y:"price",text:"text",textAnchor:"start",fill:"#FF1488",fontSize:16}),
    Plot.text(clippedBuyLabel.map(labelRow),{x:"bar",y:"price",text:"text",textAnchor:"end",fill:"#FF1488",fontSize:16}),
    Plot.text(sellLabels.map(labelRow),{x:"bar",y:"price",text:"text",textAnchor:"start",fill:"#FFFF00",fontSize:16}),
    Plot.ruleX([0,498.75],{stroke:"#fff",strokeWidth:1}),
    Plot.ruleY([4522.85,4405.07],{stroke:"#fff",strokeWidth:1}),
    Plot.axisY(yTicks,{anchor:"right",tickSize:4,tickPadding:3,tickFormat:d3.format(".2f"),fontSize:14,color:"#fff",label:null}),
    Plot.axisX(xTickBars,{anchor:"bottom",tickSize:4,tickPadding:4,textAnchor:"start",tickFormat:b=>xTickLabels[xTickBars.indexOf(b)],fontSize:14,color:"#fff",label:null})
  ]
});
const wrap = document.getElementById("wrap");
wrap.appendChild(chart);

// terminal overlays (screen-fixed objects of the trading platform)
function overlay(text, left, centerY, size, color, extra = "") {
  const d = document.createElement("div");
  d.className = "ov"; d.textContent = text;
  d.style.cssText = `left:${left}px;top:${centerY - size/2}px;font-size:${size}px;color:${color};${extra}`;
  wrap.appendChild(d); return d;
}
const chrome = document.createElement("div");
chrome.style.cssText = "position:absolute;left:0;top:0;width:2058px;height:3px;background:#d9d9d9";
wrap.appendChild(chrome);
const chrome2 = document.createElement("div");
chrome2.style.cssText = "position:absolute;left:0;top:990px;width:2058px;height:2px;background:#d9d9d9";
wrap.appendChild(chrome2);
overlay("▼", 5, 17, 12, "#fff", "font-family:'DejaVu Sans'");
overlay("XAUUSD,M15  4510.45 4510.81 4508.23 4509.99", 22, 17.5, 14, "#fff");
overlay("▼", 1589, 12, 14, "#708090", "font-family:'DejaVu Sans'");
overlay("2026.01.10 20:27:01", 1742, 43, 18.7, "#00BFFF");
overlay("XAUUSD,M15", 1792, 64, 30, "#FFD700", "font-weight:bold");
overlay("阻力3 (新)", 1634, 93, 18, "#00008B");
overlay("-20.12 (39)", 1581, 122, 24.5, "#00FFFF");
overlay("00:00", 1600, 114, 20, "#FF0000");
overlay("☯", 6, 934, 36, "#C8DC00", "font-family:'DejaVu Sans'");
overlay("Debox搜索：0x8419fac05faa8f9cbc816631dd2f4b32e375a0ae", 37, 937, 19.7, "#C8DC00");
overlay("4509.99", 1998, 111, 14, "#000", "background:#fff;padding:0 4px 0 5px;height:14px;width:51px;line-height:14px");

// account panel
const panelLines = [
"平台商:TradeMaxGlobal-Demo-2 当前杠杆:500",
"服务器时间:  2026.01.10 15:27:01",
"账号: 990005647  余额: 5830.20",
"EA独立识别代码magic :2017888",
"------------------------------------",
"EA当前运行模式:3",
"开单类型:双向都开",
"当前时间设置: 可交易时间段",
"当前货币: XAUUSD  及时点差: 0.39",
"最小挂单、止盈价、止损价点距: 0",
"最小开单量: 0.01  最大开单量: 80.00",
"BUY单库存费: -50.8  SELL单库存费: 32.55",
"1标准手保证金为:  902  USD",
"------------------------------------",
"当前波动率: MA(800) ATR(411) K(46)",
"BUY单 均价: 0.00",
"SELL单均价: 0.00",
"-------------------",
"BUY 单:0  手  数:0.00  盈  亏:0.00",
"SELL单:0  手  数:0.00  盈  亏:0.00",
"总  计:0  总手数:0.00  总盈亏:0.00",
"-------------------"];
const panelBox = document.createElement("div");
panelBox.style.cssText = "position:absolute;left:7px;top:23px;width:259px;height:331px;background:rgba(107,107,107,.96);border:1px solid #7c7c7c;box-sizing:border-box";
wrap.appendChild(panelBox);
panelLines.forEach((line,k) => {
  const d = document.createElement("div");
  d.className = "pl"; d.style.top = (28.5 + 15*k) + "px";
  line.split(/([\u4e00-\u9fff、]+)/).forEach((part,j) => {
    if (!part) return;
    if (j % 2) { const s = document.createElement("span"); s.textContent = part; d.appendChild(s); }
    else d.appendChild(document.createTextNode(part));
  });
  wrap.appendChild(d);
});

// button column: label, left, top, width, height, fill, ink, size, left-aligned
const G = "#696969", B = "#1E90FF", R = "#FF0000", N = "#32CD32", S = "#4682B4";
const panelButtons = [
["MT4信息",1867,32,59,20,B,"#fff",20],["隐藏按钮",1932,32,58,20,B,"#cfe8ff",19],
["手数",1867,57,61,20,G,"#c0c0c0",18],["0.01",1929,57,61,20,G,"#fff",26,true],
["买入BUY",1867,81,59,20,R,"#fff",20],["卖出SELL",1932,81,58,20,N,"#fff",20],
["止损点数",1867,105,61,20,G,"#c0c0c0",18],["0",1929,105,61,20,G,"#fff",24,true],
["止盈点数",1867,129,61,20,G,"#c0c0c0",18],["0",1929,129,61,20,G,"#fff",24,true],
["挂单买入",1867,153,61,20,R,"#fff",18],["0",1929,153,61,20,G,"#fff",24,true],
["挂单卖出",1867,178,61,20,N,"#fff",18],["0",1929,178,61,20,G,"#fff",24,true],
["移动止损",1867,202,61,20,G,"#c0c0c0",18],["0",1929,202,61,20,G,"#fff",24,true],
["移动止盈",1867,227,61,20,G,"#c0c0c0",18],["0",1929,227,61,20,G,"#fff",24,true],
["删除挂单",1867,252,123,20,B,"#cfe8ff",18],
["全部平仓",1867,277,123,20,B,"#fff",18],
["平盈利Buy",1867,302,59,20,R,"#fff",18],["平盈利Sell",1932,302,58,20,N,"#fff",18],
["平全BUY",1867,327,59,20,B,"#cfe8ff",20],["平全SELL",1932,327,58,20,B,"#cfe8ff",20],
["一键锁仓",1867,352,59,20,S,"#d0d0d0",18],["一键反向",1932,352,58,20,S,"#d0d0d0",18],
["删除订单Object",1867,377,123,20,B,"#fff",18],
["交易精灵VIP",1884,402,89,20,B,"#fff",16.5]];
panelButtons.forEach(([t,x,y,w,h,fill,ink,size,leftAlign]) => {
  const d = document.createElement("div");
  d.className = "btn";
  d.style.cssText = `left:${x}px;top:${y}px;width:${w}px;height:${h}px;background:${fill};color:${ink};font-size:${size}px;` + (leftAlign ? "justify-content:flex-start;padding-left:3px" : "");
  const b = document.createElement("b"); b.textContent = t; d.appendChild(b);
  wrap.appendChild(d);
});
overlay("交易精灵V面版", 1877, 19, 14.5, "#fff", "font-family:'Noto Sans CJK SC'");
overlay("☺", 1972, 20, 22, "#fff", "font-family:'DejaVu Sans'");
</script></body></html>
